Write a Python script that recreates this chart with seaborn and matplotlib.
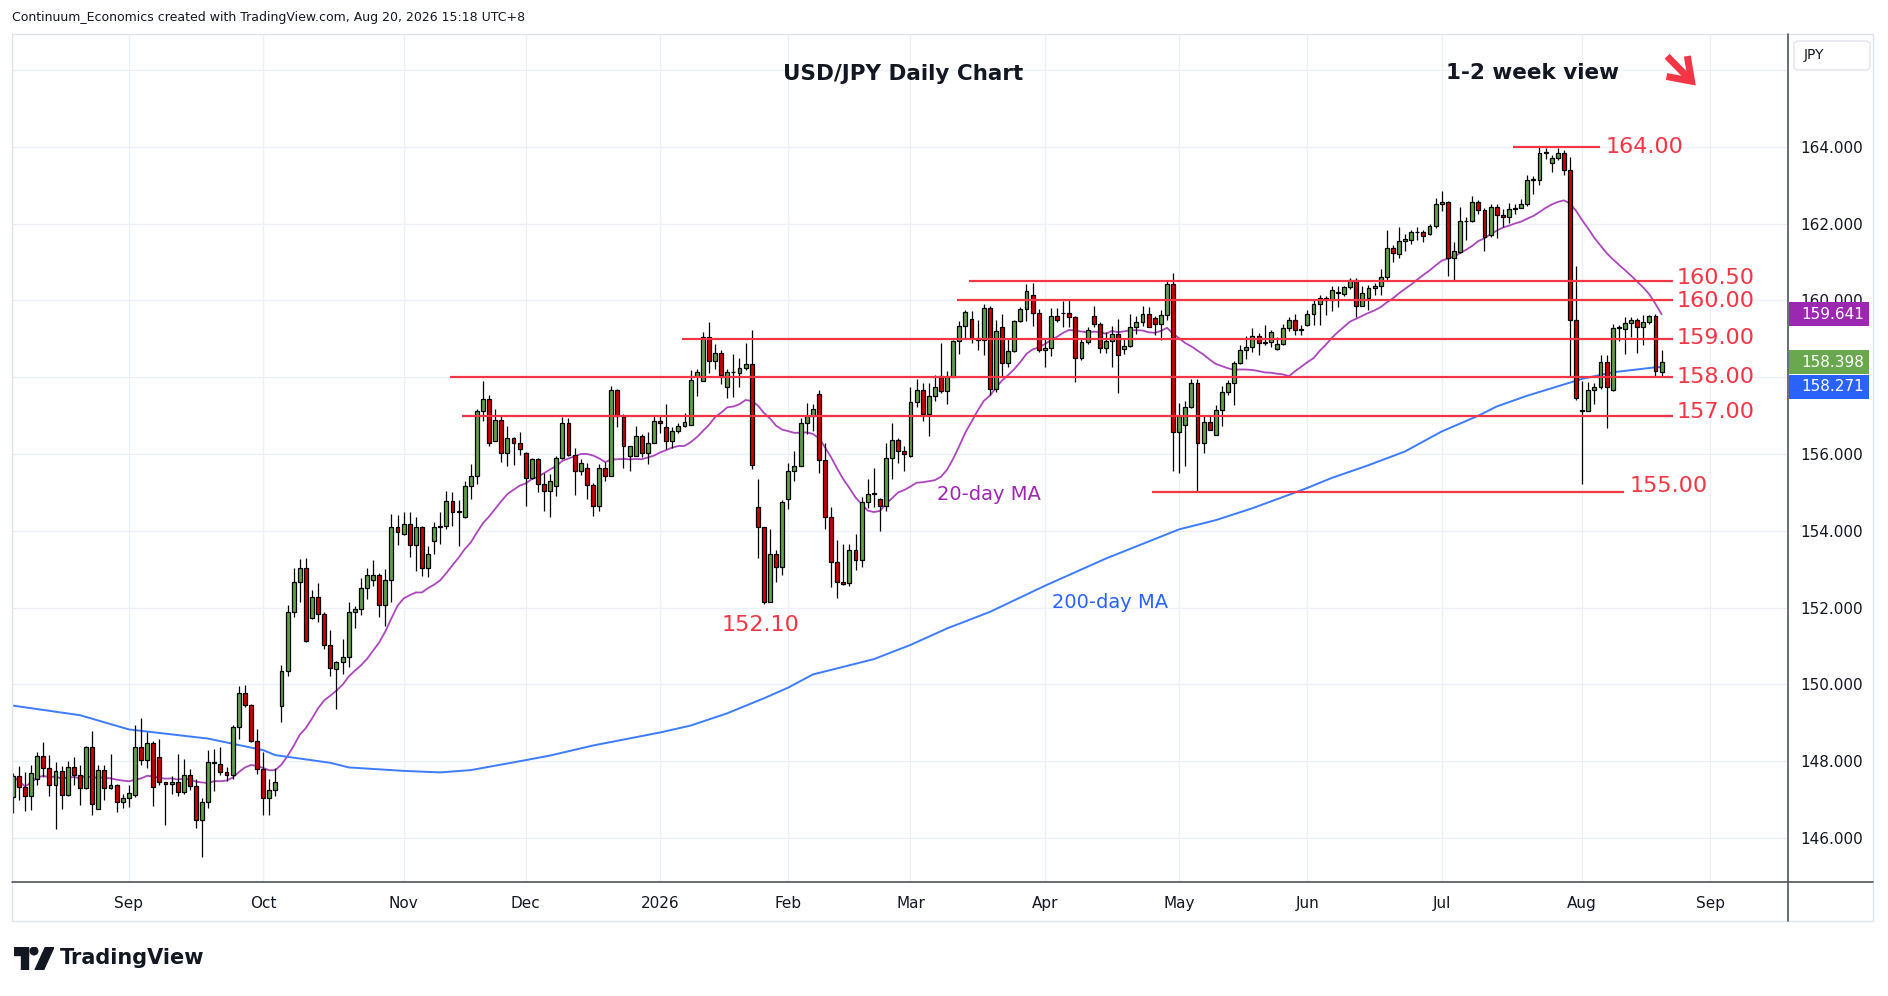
import numpy as np
import pandas as pd
import seaborn as sns
import matplotlib.pyplot as plt
from matplotlib.patches import Rectangle, Circle, Polygon, FancyBboxPatch
from matplotlib.lines import Line2D
import matplotlib.transforms as mtransforms

# trading days on the chart (weekdays, no bar on Dec 25 and Jan 1)
dates = pd.bdate_range('2025-08-05', '2026-08-20')
dates = dates.drop(pd.to_datetime(['2025-12-25', '2026-01-01']))

# daily OHLC, one line per month
opens = [
    147.07, 147.62, 147.33, 147.10, 147.55, 148.14, 147.83, 147.37, 147.75, 147.11, 147.85, 147.65, 147.30, 148.37, 146.75, 147.78, 147.30, 147.37, 146.94,
    147.04, 147.11, 148.37, 148.04, 148.48, 148.11, 147.46, 147.40, 147.46, 147.20, 147.65, 147.36, 146.46, 146.94, 147.98, 147.93, 147.72, 147.63, 148.90, 149.78, 149.46, 148.52,
    147.81, 147.04, 147.24, 149.44, 150.35, 151.90, 152.68, 153.04, 151.74, 152.29, 151.83, 151.03, 150.41, 150.59, 150.72, 151.90, 151.96, 152.52, 152.72, 152.86, 152.07, 152.71, 154.09,
    153.93, 154.19, 153.63, 154.09, 153.04, 153.74, 154.11, 154.13, 154.77, 154.50, 154.35, 155.16, 155.44, 157.11, 157.43, 156.35, 156.90, 156.02, 156.43, 156.29,
    156.04, 155.39, 155.87, 155.21, 155.03, 155.16, 155.91, 156.80, 155.98, 155.57, 155.65, 155.19, 154.65, 155.63, 155.44, 157.66, 157.00, 155.96, 155.96, 156.48, 156.02, 156.30,
    156.85, 156.70, 156.33, 156.59, 156.72, 156.77, 158.04, 157.91, 159.04, 158.42, 158.63, 157.74, 158.13, 158.10, 158.23, 158.34, 154.61, 154.11, 152.16, 153.39, 153.07,
    154.84, 155.57, 155.70, 156.80, 157.00, 157.57, 155.85, 154.35, 153.20, 152.68, 152.63, 153.50, 153.23, 154.74, 154.97, 154.84, 154.65, 155.89, 156.37, 156.07,
    155.94, 157.35, 157.68, 157.04, 157.52, 158.03, 157.64, 158.02, 158.95, 159.33, 159.51, 159.03, 158.97, 159.80, 157.69, 159.31, 158.38, 158.69, 159.47, 159.77, 160.15, 159.67,
    158.70, 158.76, 159.60, 159.67, 159.67, 159.58, 158.51, 158.92, 159.60, 159.40, 158.76, 158.95, 159.12, 158.73, 158.82, 159.30, 159.44, 159.64, 159.54, 159.40, 159.63, 160.43,
    156.58, 156.75, 157.23, 157.86, 156.30, 156.84, 156.51, 157.15, 157.61, 157.84, 158.37, 158.70, 158.78, 159.07, 158.90, 158.91, 158.74, 158.87, 159.28, 159.50, 159.23,
    159.35, 159.65, 159.91, 160.07, 160.02, 160.20, 160.16, 160.35, 160.54, 159.85, 160.06, 160.32, 160.37, 160.61, 161.37, 161.22, 161.55, 161.57, 161.78, 161.78, 161.72, 161.94,
    162.52, 162.57, 161.10, 161.26, 162.06, 162.07, 162.57, 162.35, 161.71, 162.43, 162.23, 162.17, 162.39, 162.41, 162.50, 163.15, 163.15, 163.84, 163.58, 163.72, 163.84, 163.39, 159.48,
    157.15, 157.13, 157.68, 157.74, 158.39, 157.68, 159.29, 159.25, 159.41, 159.48, 159.30, 159.43, 159.59, 158.13,
]
highs = [
    147.70, 147.87, 147.72, 147.90, 148.24, 148.50, 148.16, 147.97, 147.88, 148.00, 148.11, 147.90, 148.40, 148.78, 147.91, 147.90, 148.20, 147.40, 147.16,
    147.39, 148.94, 149.13, 148.77, 148.52, 148.59, 147.47, 147.62, 148.20, 148.07, 147.79, 147.55, 147.04, 148.29, 148.31, 148.37, 147.85, 148.94, 149.96, 149.98, 149.50, 148.85,
    148.24, 147.53, 147.83, 150.50, 152.07, 153.03, 153.27, 153.29, 152.46, 152.63, 151.88, 151.42, 150.61, 151.19, 152.16, 152.04, 152.78, 153.04, 153.23, 152.90, 153.02, 154.43, 154.41,
    154.48, 154.48, 154.35, 154.12, 153.61, 154.24, 154.48, 155.03, 155.00, 154.80, 155.30, 155.74, 157.17, 157.90, 157.55, 157.17, 156.98, 156.74, 156.45, 156.57,
    156.06, 155.89, 155.89, 155.50, 155.48, 155.96, 156.96, 156.93, 156.15, 155.87, 155.78, 155.24, 155.74, 155.79, 157.77, 157.70, 157.04, 156.20, 156.72, 156.52, 156.57, 156.98,
    156.98, 157.31, 156.70, 156.81, 157.06, 158.19, 158.22, 159.17, 159.43, 158.87, 158.71, 158.22, 158.61, 158.50, 158.89, 159.23, 155.35, 154.11, 154.04, 153.50, 154.80,
    155.78, 156.09, 156.93, 157.32, 157.30, 157.67, 156.28, 154.63, 153.76, 153.65, 153.65, 153.93, 154.87, 155.35, 155.63, 154.86, 156.28, 156.81, 156.42, 156.22,
    157.74, 157.96, 157.85, 157.85, 158.07, 158.89, 158.17, 158.97, 159.47, 159.75, 159.73, 159.49, 159.92, 159.86, 159.49, 159.66, 159.03, 159.49, 159.83, 160.43, 160.46, 159.77,
    159.03, 159.80, 159.80, 159.99, 160.05, 159.60, 159.03, 159.31, 159.86, 159.45, 159.19, 159.34, 159.51, 159.02, 159.64, 159.60, 159.86, 159.82, 159.60, 159.75, 160.50, 160.72,
    157.34, 157.38, 157.95, 157.95, 156.99, 156.99, 157.28, 157.77, 157.93, 158.43, 158.84, 159.07, 159.28, 159.16, 159.35, 159.22, 159.04, 159.39, 159.58, 159.65, 159.35,
    159.76, 160.00, 160.13, 160.11, 160.37, 160.39, 160.39, 160.58, 160.58, 160.37, 160.41, 160.46, 160.81, 161.83, 161.45, 161.91, 161.74, 161.83, 161.91, 161.83, 162.00, 162.67,
    162.84, 162.59, 161.52, 162.43, 162.17, 162.72, 162.61, 162.41, 162.50, 162.52, 162.39, 162.54, 162.52, 162.65, 163.26, 163.24, 164.00, 163.96, 163.78, 163.96, 163.91, 163.74, 160.89,
    157.91, 157.87, 157.84, 158.57, 158.58, 159.39, 159.35, 159.57, 159.57, 159.55, 159.61, 159.63, 159.65, 158.72,
]
lows = [
    146.64, 146.98, 146.70, 146.72, 147.37, 147.59, 147.10, 146.23, 146.75, 147.10, 147.37, 146.87, 147.29, 146.59, 146.75, 147.00, 147.28, 146.68, 146.78,
    146.81, 147.08, 147.90, 147.83, 146.83, 147.37, 146.33, 147.16, 147.10, 147.16, 147.24, 146.26, 145.50, 146.78, 147.22, 147.65, 147.49, 147.55, 148.59, 149.42, 148.50, 147.68,
    146.59, 146.61, 147.10, 149.03, 150.23, 151.77, 152.14, 151.10, 151.70, 151.63, 150.92, 150.23, 149.37, 150.28, 150.46, 151.48, 151.81, 152.23, 152.57, 151.76, 151.52, 152.15, 153.63,
    153.90, 153.33, 152.96, 152.83, 152.81, 153.41, 153.65, 154.06, 154.13, 153.61, 154.33, 154.83, 155.22, 156.87, 156.20, 156.33, 155.80, 155.68, 155.72, 155.98,
    154.65, 155.35, 155.02, 154.52, 154.35, 154.91, 155.88, 155.95, 154.94, 155.45, 154.84, 154.39, 154.52, 155.30, 155.44, 156.71, 155.63, 155.57, 155.94, 155.93, 155.74, 156.28,
    156.55, 156.12, 156.17, 156.54, 156.70, 156.77, 157.52, 157.91, 158.10, 158.22, 157.83, 157.45, 157.48, 157.76, 158.20, 155.61, 153.30, 152.10, 152.16, 152.68, 152.85,
    154.57, 155.30, 155.70, 156.52, 156.61, 155.52, 154.04, 152.54, 152.26, 152.60, 152.57, 152.97, 153.06, 154.59, 154.63, 154.00, 154.52, 155.35, 155.78, 155.55,
    155.92, 157.22, 156.85, 156.46, 157.37, 157.60, 157.30, 158.00, 158.60, 159.02, 158.88, 158.70, 158.58, 157.53, 157.62, 158.01, 158.27, 158.67, 159.45, 159.47, 159.34, 158.66,
    158.27, 158.56, 159.43, 159.31, 159.30, 157.89, 158.44, 158.86, 159.32, 158.62, 158.62, 158.27, 157.60, 158.60, 158.80, 159.13, 159.34, 159.30, 159.10, 158.97, 159.49, 155.56,
    155.50, 155.70, 157.21, 155.01, 156.03, 156.62, 156.50, 156.72, 157.55, 157.29, 158.35, 158.48, 158.65, 158.59, 158.85, 158.78, 158.72, 158.84, 159.20, 159.10, 159.10,
    159.33, 159.37, 159.37, 159.61, 159.72, 159.83, 160.12, 160.30, 159.57, 159.85, 159.74, 160.13, 160.13, 160.50, 161.00, 161.10, 161.28, 161.48, 161.57, 161.52, 161.70, 161.89,
    162.32, 160.63, 160.50, 161.24, 161.57, 162.05, 162.26, 161.30, 161.65, 161.63, 161.91, 162.02, 162.26, 162.40, 162.46, 162.77, 163.00, 163.69, 163.35, 163.67, 163.26, 158.00, 157.41,
    155.23, 157.11, 157.30, 157.70, 156.68, 157.63, 158.95, 158.61, 159.04, 158.63, 158.85, 159.40, 158.04, 158.04,
]
closes = [
    147.62, 147.33, 147.10, 147.70, 148.14, 147.83, 147.37, 147.75, 147.11, 147.85, 147.65, 147.30, 148.37, 146.88, 147.78, 147.30, 147.37, 146.94, 147.04,
    147.17, 148.37, 148.04, 148.48, 147.33, 147.46, 147.40, 147.46, 147.20, 147.65, 147.36, 146.46, 146.94, 147.98, 147.95, 147.72, 147.63, 148.90, 149.78, 149.46, 148.52, 147.81,
    147.04, 147.24, 147.46, 150.35, 151.90, 152.68, 153.04, 151.14, 152.29, 151.83, 151.03, 150.43, 150.59, 150.72, 151.90, 151.96, 152.52, 152.86, 152.86, 152.07, 152.71, 154.09, 153.98,
    154.19, 153.63, 154.09, 153.04, 153.39, 154.11, 154.13, 154.77, 154.50, 154.50, 155.16, 155.44, 157.11, 157.43, 156.30, 156.90, 156.02, 156.43, 156.29, 156.13,
    155.39, 155.87, 155.21, 155.03, 155.30, 155.91, 156.80, 155.98, 155.57, 155.78, 155.19, 154.65, 155.63, 155.44, 157.68, 157.00, 156.20, 156.20, 156.48, 156.02, 156.30, 156.85,
    156.80, 156.33, 156.59, 156.72, 156.83, 157.93, 158.13, 159.04, 158.42, 158.63, 158.06, 158.13, 158.13, 158.23, 158.34, 155.72, 154.11, 152.16, 153.39, 153.07, 154.74,
    155.57, 155.70, 156.80, 157.00, 157.17, 155.85, 154.35, 153.20, 152.68, 152.61, 153.50, 153.23, 154.74, 154.97, 154.98, 154.65, 155.89, 156.37, 156.07, 156.00,
    157.35, 157.68, 157.04, 157.52, 157.74, 157.63, 158.02, 158.95, 159.33, 159.69, 159.03, 158.97, 159.80, 157.69, 159.21, 158.38, 158.69, 159.47, 159.77, 160.25, 159.67, 158.70,
    158.76, 159.60, 159.49, 159.67, 159.58, 158.51, 158.92, 159.23, 159.40, 158.76, 158.95, 159.12, 158.57, 158.82, 159.30, 159.44, 159.64, 159.31, 159.40, 159.63, 160.43, 156.58,
    156.99, 157.23, 157.86, 156.30, 156.84, 156.64, 157.14, 157.61, 157.84, 158.37, 158.70, 158.78, 159.07, 158.90, 158.91, 159.17, 158.87, 159.28, 159.50, 159.23, 159.24,
    159.65, 159.91, 160.07, 160.02, 160.28, 160.20, 160.35, 160.54, 159.85, 160.19, 160.32, 160.37, 160.61, 161.37, 161.24, 161.55, 161.59, 161.78, 161.78, 161.68, 161.94, 162.52,
    162.57, 161.10, 161.30, 162.06, 162.07, 162.57, 162.35, 161.65, 162.43, 162.23, 162.17, 162.39, 162.39, 162.50, 163.15, 163.15, 163.84, 163.84, 163.72, 163.84, 163.41, 159.48, 157.46,
    157.13, 157.68, 157.74, 158.39, 157.74, 159.29, 159.29, 159.41, 159.48, 159.30, 159.43, 159.59, 158.16, 158.398,
]

# 200-day MA
ma200_dates = ['2025-08-05', '2025-08-20', '2025-09-01', '2025-09-18', '2025-10-01', '2025-10-03', '2025-10-16',
               '2025-10-21', '2025-11-03', '2025-11-11', '2025-11-18', '2025-12-01', '2025-12-05', '2025-12-16',
               '2026-01-02', '2026-01-09', '2026-01-19', '2026-01-27', '2026-02-02', '2026-02-06', '2026-02-20',
               '2026-03-02', '2026-03-10', '2026-03-19', '2026-04-01', '2026-04-15', '2026-05-01', '2026-05-11',
               '2026-05-19', '2026-05-28', '2026-06-01', '2026-06-05', '2026-06-15', '2026-06-23', '2026-07-01',
               '2026-07-09', '2026-07-14', '2026-07-21', '2026-08-03', '2026-08-10', '2026-08-19', '2026-08-20']
ma200_vals = [149.45, 149.20, 148.83, 148.59, 148.29, 148.16, 147.96,
              147.84, 147.75, 147.71, 147.77, 148.03, 148.15, 148.41,
              148.75, 148.93, 149.25, 149.64, 149.92, 150.26, 150.66,
              151.03, 151.46, 151.89, 152.57, 153.28, 154.04, 154.28,
              154.59, 155.00, 155.12, 155.38, 155.71, 156.07, 156.59,
              157.00, 157.24, 157.52, 157.96, 158.13, 158.26, 158.27]

# last values shown in the tags on the price scale: 20-day MA, close, 200-day MA
tag_values = [159.641, 158.398, 158.271]

# support / resistance levels
levels = [164.00, 160.50, 160.00, 159.00, 158.00, 157.00, 155.00]
level_text = ['164.00', '160.50', '160.00', '159.00', '158.00', '157.00', '155.00']
level_from = ['2026-07-17', '2026-03-16', '2026-03-12', '2026-01-08', '2025-11-13', '2025-11-17', '2026-04-27']
level_to = ['2026-08-06', '2026-08-24', '2026-08-24', '2026-08-24', '2026-08-24', '2026-08-24', '2026-08-12']

tick_dates = ['2025-09-01', '2025-10-01', '2025-11-03', '2025-12-01', '2026-01-02', '2026-02-02', '2026-03-02',
              '2026-04-01', '2026-05-01', '2026-06-01', '2026-07-01', '2026-08-03', '2026-09-01']
tick_labels = ['Sep', 'Oct', 'Nov', 'Dec', '2026', 'Feb', 'Mar', 'Apr', 'May', 'Jun', 'Jul', 'Aug', 'Sep']

assert len(opens) == len(highs) == len(lows) == len(closes) == len(dates)

GREEN = '#62a247'
RED = '#cc0000'
LEVEL_RED = '#f23645'
PURPLE = '#ab47bc'
BLUE = '#3d7bff'
INK = '#131722'


def pos(d):
    # bar index of a date, counting on past the last bar for future dates
    d = pd.Timestamp(d)
    if d <= dates[-1]:
        return int(dates.searchsorted(d))
    return len(dates) - 1 + len(pd.bdate_range(dates[-1], d)) - 1


df = pd.DataFrame({'x': np.arange(len(dates)), 'open': opens, 'high': highs, 'low': lows, 'close': closes})
df['ma20'] = df['close'].rolling(20, min_periods=1).mean()

sns.set_theme(style='white')
plt.rcParams['font.family'] = ['DejaVu Sans']

W, H = 1888, 996
fig = plt.figure(figsize=(W / 100, H / 100), dpi=100)
fig.patch.set_facecolor('white')


def fx(px):
    return px / W


def fy(py):
    return 1 - py / H


ax = fig.add_axes([fx(12), fy(883), fx(1788) - fx(12), fy(34) - fy(883)])
ax.set_facecolor('white')

# moving averages
sns.lineplot(x=df['x'], y=df['ma20'], ax=ax, color=PURPLE, linewidth=1.3, zorder=2)
sns.lineplot(x=[pos(d) for d in ma200_dates], y=ma200_vals, ax=ax, color=BLUE, linewidth=1.4, zorder=2)

# grid and scales
ax.set_xticks([pos(d) for d in tick_dates])
ax.set_xticklabels(tick_labels)
yt = np.arange(146, 167, 2)
ax.set_yticks(yt)
# 166 has no label (JPY box) and 158 sits under the price tags
ax.set_yticklabels([f'{v:.3f}' if v not in (158, 166) else '' for v in yt])
ax.grid(True, color='#edf1f6', lw=1, zorder=0)
ax.yaxis.tick_right()
ax.tick_params(axis='y', length=0, pad=9, labelsize=11, labelcolor=INK)
ax.tick_params(axis='x', length=0, pad=9, labelsize=11, labelcolor=INK)
ax.set_xlabel('')
ax.set_ylabel('')
for s in ax.spines.values():
    s.set_visible(False)

# candles
up = df['close'] >= df['open']
body_lo = np.minimum(df['open'], df['close'])
body_h = np.maximum((df['close'] - df['open']).abs(), 0.015)
ax.vlines(df['x'], df['low'], df['high'], color='black', lw=0.9, zorder=3)
ax.bar(df['x'], body_h, bottom=body_lo, width=0.64, color=np.where(up, GREEN, RED),
       edgecolor='black', linewidth=0.9, zorder=4)

# levels and their labels
label_x = [260.8, 272.5, 272.5, 272.5, 272.5, 272.5, 264.7]
label_y = [164.0, 160.58, 159.98, 159.02, 158.02, 157.1, 155.17]
for lv, txt, a, b, lx, ly in zip(levels, level_text, level_from, level_to, label_x, label_y):
    ax.hlines(lv, pos(a) - 0.4, pos(b) - 0.1, color=LEVEL_RED, lw=1.6, zorder=5)
    ax.text(lx, ly, txt, color=LEVEL_RED, fontsize=16, ha='left', va='center', zorder=6)

ax.text(122.5, 151.55, '152.10', color=LEVEL_RED, fontsize=16, ha='center', va='center')
ax.text(159.8, 154.94, '20-day MA', color='#9c27b0', fontsize=14, ha='center', va='center')
ax.text(179.7, 152.14, '200-day MA', color='#2962ff', fontsize=14, ha='center', va='center')

ax.text(145.8, 165.91, 'USD/JPY Daily Chart', color=INK, fontsize=15.5, weight='bold', ha='center', va='center')
ax.text(248.8, 165.93, '1-2 week view', color=INK, fontsize=15.5, weight='bold', ha='center', va='center')
ax.annotate('', xy=(275.6, 165.6), xytext=(270.9, 166.36),
            arrowprops=dict(arrowstyle='->,head_length=0.5,head_width=0.35', color=LEVEL_RED, lw=5,
                            mutation_scale=30, shrinkA=0, shrinkB=0, joinstyle='miter', capstyle='butt'))

ax.set_xlim(-0.13, 290.7)
ax.set_ylim(144.83, 166.94)

# price tags on the right scale (the 200-day tag is pushed below the close tag)
bt = mtransforms.blended_transform_factory(ax.transAxes, ax.transData)
tag_y = [tag_values[0], tag_values[1], tag_values[1] - 0.65]
tag_colors = ['#9c27b0', '#6aa84f', '#2962ff']
for ty, val, col in zip(tag_y, tag_values, tag_colors):
    ax.add_patch(Rectangle((1.0006, ty - 0.31), 0.045, 0.62, transform=bt, facecolor=col,
                           edgecolor='none', clip_on=False, zorder=6))
    ax.text(1.0077, ty, f'{val:.3f}', transform=bt, color='white', fontsize=11, ha='left', va='center',
            clip_on=False, zorder=7)

# panel frame, axis lines
fig.add_artist(Rectangle((fx(12), fy(921)), fx(1873) - fx(12), fy(34) - fy(921), transform=fig.transFigure,
                         fill=False, edgecolor='#e0e3eb', lw=1))
fig.add_artist(Line2D([fx(12), fx(1873)], [fy(882), fy(882)], color='#50535e', lw=1.2))
fig.add_artist(Line2D([fx(1788), fx(1788)], [fy(34), fy(921)], color='#50535e', lw=1.2))

fig.add_artist(FancyBboxPatch((fx(1794), fy(70)), fx(76), 29 / H, boxstyle='round,pad=0,rounding_size=0.003',
                              transform=fig.transFigure, facecolor='white', edgecolor='#e0e3eb', lw=1))
fig.text(fx(1804), fy(55), 'JPY', fontsize=10, color=INK, va='center')

fig.text(fx(12), fy(18), 'Continuum_Economics created with TradingView.com, Aug 20, 2026 15:18 UTC+8',
         fontsize=9, color=INK, va='center')

# TradingView mark and name
lg = fig.add_axes([fx(14), fy(970), fx(40), 23 / H])
lg.set_xlim(0, 40)
lg.set_ylim(0, 23)
lg.axis('off')
lg.add_patch(Rectangle((0, 15), 14, 8, color=INK))
lg.add_patch(Rectangle((6.5, 0), 7.5, 23, color=INK))
lg.add_patch(Circle((20, 19), 3.8, color=INK))
lg.add_patch(Polygon([(21, 0), (29.5, 0), (40, 23), (31.5, 23)], closed=True, color=INK))
fig.text(fx(60), fy(958), 'TradingView', fontsize=15, weight='bold', color=INK, va='center')

fig.savefig('out.png', dpi=100, facecolor='white')
